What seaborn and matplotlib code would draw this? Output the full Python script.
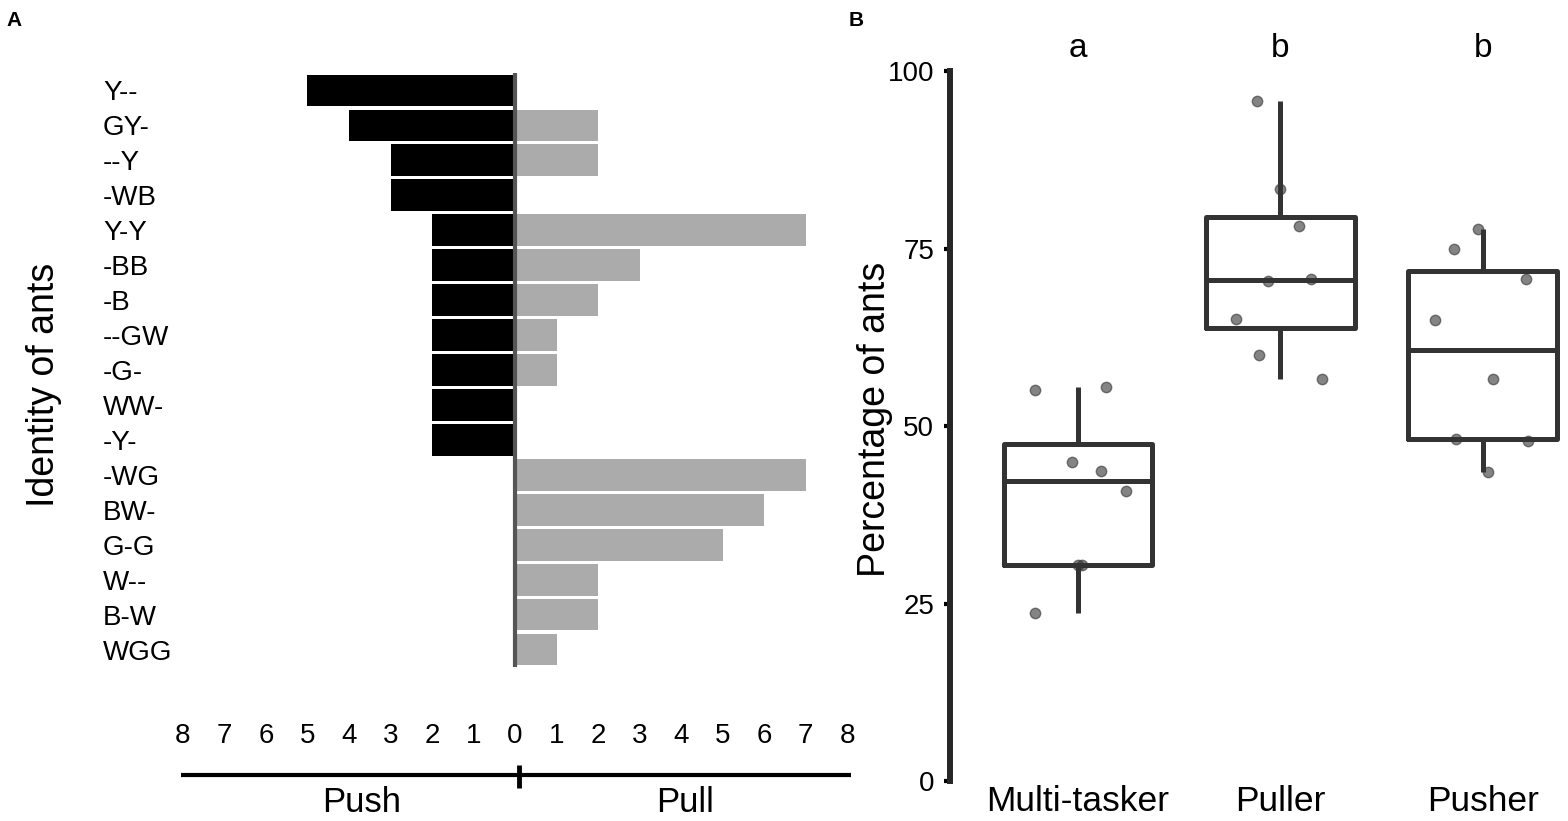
import matplotlib.pyplot as plt
import numpy as np
import pandas as pd
import seaborn as sns
from matplotlib.transforms import blended_transform_factory

# panel A: push / pull counts per ant
ants = ['Y--', 'GY-', '--Y', '-WB', 'Y-Y', '-BB', '-B', '--GW', '-G-', 'WW-', '-Y-',
        '-WG', 'BW-', 'G-G', 'W--', 'B-W', 'WGG']
push = [5, 4, 3, 3, 2, 2, 2, 2, 2, 2, 2, 0, 0, 0, 0, 0, 0]
pull = [0, 2, 2, 0, 7, 3, 2, 1, 1, 0, 0, 7, 6, 5, 2, 2, 1]
count_ticks = list(range(-8, 9))

# panel B: percentage of ants per group
groups = ['Multi-tasker', 'Puller', 'Pusher']
multi_pct = [55.1, 55.5, 44.9, 43.6, 40.8, 30.4, 30.4, 23.6]
puller_pct = [95.8, 83.4, 78.2, 70.7, 70.4, 65.1, 60.0, 56.6]
pusher_pct = [75.0, 77.8, 70.7, 64.9, 56.6, 47.9, 48.2, 43.5]
letters = ['a', 'b', 'b']
pct_ticks = [0, 25, 50, 75, 100]

sns.set_style('ticks')
plt.rcParams['font.family'] = ['Liberation Sans', 'DejaVu Sans']
plt.rcParams.update({'text.color': 'black', 'axes.labelcolor': 'black',
                     'xtick.color': 'black', 'ytick.color': 'black'})

fig = plt.figure(figsize=(15.68, 8.21), dpi=100)

# ---- panel A ----
ax1 = fig.add_axes([0.1167, 0.1876, 0.4235, 0.7235])
sns.barplot(x=[-v for v in push], y=ants, color='black', saturation=1,
            width=0.91, errorbar=None, linewidth=0, ax=ax1)
sns.barplot(x=pull, y=ants, color='#ababab', saturation=1,
            width=0.91, errorbar=None, linewidth=0, ax=ax1)
ax1.axvline(0, color='#555555', lw=3, zorder=5)
ax1.set_xlim(-8, 8)
ax1.set_ylim(len(ants) - 0.5, -0.5)
ax1.set_xticks(count_ticks)
ax1.set_xticklabels([str(abs(t)) for t in count_ticks])
ax1.tick_params(axis='x', length=0, pad=40, labelsize=20)
ax1.tick_params(axis='y', length=0, pad=57.6, labelsize=20)
for lbl in ax1.get_yticklabels():
    lbl.set_horizontalalignment('left')
for s in ax1.spines.values():
    s.set_visible(False)
ax1.set_xlabel('')
ax1.set_ylabel('Identity of ants', fontsize=27)
ax1.yaxis.set_label_coords(-0.182, 0.475)

# axis line under the numbers with Push / Pull captions
trans = blended_transform_factory(ax1.transData, fig.transFigure)
ax1.plot([-8.05, 8.1], [0.056, 0.056], transform=trans, clip_on=False,
         color='black', lw=3, solid_capstyle='butt')
ax1.plot([0.1, 0.1], [0.04, 0.068], transform=trans, clip_on=False,
         color='black', lw=3.5, solid_capstyle='butt')
ax1.text(-3.7, 0.022, 'Push', transform=trans, ha='center', va='center', fontsize=25)
ax1.text(4.1, 0.022, 'Pull', transform=trans, ha='center', va='center', fontsize=25)

# ---- panel B ----
df = pd.DataFrame({
    'group': np.repeat(groups, [len(multi_pct), len(puller_pct), len(pusher_pct)]),
    'pct': multi_pct + puller_pct + pusher_pct,
})
ax2 = fig.add_axes([0.6059, 0.0487, 0.394, 0.8648])
sns.boxplot(data=df, x='group', y='pct', order=groups, fill=False, color='#333333',
            linewidth=3.6, width=0.735, showcaps=False, showfliers=False, ax=ax2)
np.random.seed(7)
sns.stripplot(data=df, x='group', y='pct', order=groups, color='#333333', alpha=0.6,
              size=7.5, jitter=0.25, linewidth=1, edgecolor='#333333', ax=ax2)
for i, letter in enumerate(letters):
    ax2.text(i, 102, letter, ha='center', va='baseline', fontsize=24, clip_on=False)

ax2.set_ylim(0, 100)
ax2.set_xlim(-0.632, 2.42)
ax2.set_yticks(pct_ticks)
ax2.tick_params(axis='y', length=4.3, width=3, pad=7, labelsize=20)
ax2.tick_params(axis='x', length=0, pad=3, labelsize=25.5)
for side in ['top', 'right', 'bottom']:
    ax2.spines[side].set_visible(False)
ax2.spines['left'].set_linewidth(4.3)
ax2.spines['left'].set_capstyle('projecting')
ax2.set_xlabel('')
ax2.set_ylabel('Percentage of ants', fontsize=27)
ax2.yaxis.set_label_coords(-0.092, 0.51)

fig.text(0.004, 0.987, 'A', weight='bold', fontsize=15, va='top')
fig.text(0.541, 0.987, 'B', weight='bold', fontsize=15, va='top')

fig.savefig('out.png', dpi=100)
